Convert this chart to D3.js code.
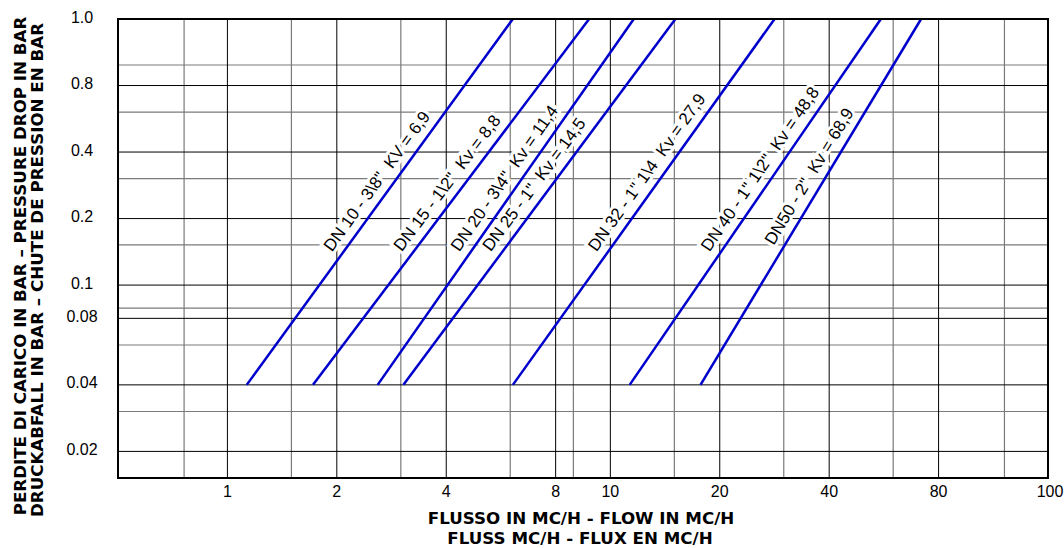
<!DOCTYPE html>
<meta charset="utf-8">
<script src="https://d3js.org/d3.v7.min.js"></script>
<body style="margin:0;background:#fff">
<svg width="1064" height="548"></svg>
<script>
    // flow axis (mc/h) and pressure drop axis (bar)
    var flowTicks  = [1, 2, 4, 8, 10, 20, 40, 80, 100];
    var flowMinor  = [0.76, 1.5, 3, 6, 8.6, 15, 30, 60, 91.5];
    var dropTicks  = [1.0, 0.8, 0.4, 0.2, 0.1, 0.08, 0.04, 0.02];
    var dropMinor  = [0.857, 0.606, 0.303, 0.152, 0.0857, 0.0606, 0.0303];
    var dropTickLabels = ['1.0', '0.8', '0.4', '0.2', '0.1', '0.08', '0.04', '0.02'];

    // valve curves: flow read at 0.04 bar and at 1.0 bar
    var valves   = ['DN 10 - 3\\8"', 'DN 15 - 1\\2"', 'DN 20 - 3\\4"', 'DN 25 - 1"', 'DN 32 - 1" 1\\4', 'DN 40 - 1" 1\\2"', 'DN50 - 2"'];
    var kvText   = ['KV = 6,9', 'Kv = 8,8', 'Kv = 11,4', 'Kv = 14,5', 'Kv = 27,9', 'Kv = 48,8', 'Kv = 68,9'];
    var flowLow  = [1.13, 1.72, 2.59, 3.05, 6.1, 11.3, 17.7];
    var flowHigh = [6.1, 9.17, 11.6, 15.1, 28.3, 55.5, 71.6];
    var dropLow  = 0.04, dropHigh = 1.0;
    var labelAt  = [0.133, 0.133, 0.133, 0.133, 0.133, 0.133, 0.143];

    var L = 118, R = 1048, T = 19, B = 478;
    var svg = d3.select('svg');

    // the paper uses uneven steps: 8->10 and 0.1->0.08 are half steps
    var xUnit = (R - L) / 8.5;
    var x = d3.scaleLog()
        .domain([0.5].concat(flowTicks))
        .range([0, 1, 2, 3, 4, 4.5, 5.5, 6.5, 7.5, 8.5].map(function(s){ return L + s * xUnit; }));

    var yUnit = (B - T) / 6.9;
    var y = d3.scaleLog()
        .domain(dropTicks.concat([0.01]))
        .range([0, 1, 2, 3, 4, 4.5, 5.5, 6.5, 7.5].map(function(s){ return T + s * yUnit; }));

    var grid = svg.append('g');
    grid.selectAll('.vmin').data(flowMinor).enter().append('line')
        .attr('x1', x).attr('x2', x).attr('y1', T).attr('y2', B)
        .attr('stroke', '#7a7a7a').attr('stroke-width', 1.2);
    grid.selectAll('.hmin').data(dropMinor).enter().append('line')
        .attr('y1', y).attr('y2', y).attr('x1', L).attr('x2', R)
        .attr('stroke', '#7a7a7a').attr('stroke-width', 1.2);
    grid.selectAll('.vmaj').data(flowTicks).enter().append('line')
        .attr('x1', x).attr('x2', x).attr('y1', T).attr('y2', B)
        .attr('stroke', '#000').attr('stroke-width', 1);
    grid.selectAll('.hmaj').data(dropTicks).enter().append('line')
        .attr('y1', y).attr('y2', y).attr('x1', L).attr('x2', R)
        .attr('stroke', '#000').attr('stroke-width', 1);

    // valve labels, white halo cuts the grid like the original
    var labels = svg.append('g')
        .attr('font-family', 'Liberation Sans, Arial, sans-serif')
        .attr('font-size', 17);
    valves.forEach(function(v, i){
        var x0 = x(flowLow[i]), y0 = y(dropLow), x1 = x(flowHigh[i]), y1 = y(dropHigh);
        var ang = Math.atan2(y1 - y0, x1 - x0) * 180 / Math.PI;
        var t = (y(labelAt[i]) - y0) / (y1 - y0);
        var px = x0 + t * (x1 - x0), py = y0 + t * (y1 - y0);
        labels.append('text')
            .attr('transform', 'translate(' + px + ',' + py + ') rotate(' + ang + ')')
            .attr('dy', -9)
            .attr('xml:space', 'preserve')
            .style('white-space', 'pre')
            .attr('stroke', '#fff').attr('stroke-width', 6).attr('paint-order', 'stroke')
            .attr('fill', '#000')
            .text(v + '  ' + kvText[i]);
    });

    svg.append('g').selectAll('line').data(valves).enter().append('line')
        .attr('x1', function(d, i){ return x(flowLow[i]); })
        .attr('y1', y(dropLow))
        .attr('x2', function(d, i){ return x(flowHigh[i]); })
        .attr('y2', y(dropHigh))
        .attr('stroke', '#0000cc').attr('stroke-width', 2.5);

    svg.append('rect')
        .attr('x', L).attr('y', T).attr('width', R - L).attr('height', B - T)
        .attr('fill', 'none').attr('stroke', '#000').attr('stroke-width', 2);

    // tick labels
    var ticks = svg.append('g')
        .attr('font-family', 'Liberation Sans, Arial, sans-serif')
        .attr('font-size', 16).attr('fill', '#000');
    ticks.selectAll('.yt').data(dropTicks).enter().append('text')
        .attr('x', 82).attr('y', function(d){ return y(d) - 2; })
        .attr('dy', '0.35em').attr('text-anchor', 'middle')
        .text(function(d, i){ return dropTickLabels[i]; });
    ticks.selectAll('.xt').data(flowTicks).enter().append('text')
        .attr('x', function(d){ return x(d) + (d === 100 ? 2 : 0); }).attr('y', 497)
        .attr('text-anchor', 'middle')
        .text(function(d){ return d; });

    // axis titles
    var titles = svg.append('g')
        .attr('font-family', 'DejaVu Sans, Verdana, sans-serif')
        .attr('font-weight', 'bold').attr('font-size', 16.7).attr('fill', '#000');
    titles.append('text').attr('x', 581).attr('y', 524).attr('text-anchor', 'middle')
        .text('FLUSSO IN MC/H - FLOW IN MC/H');
    titles.append('text').attr('x', 580).attr('y', 544).attr('text-anchor', 'middle')
        .text('FLUSS MC/H - FLUX EN MC/H');
    titles.append('text').attr('transform', 'translate(25.5,266) rotate(-90)')
        .attr('text-anchor', 'middle')
        .text('PERDITE DI CARICO IN BAR \u2013 PRESSURE DROP IN BAR');
    titles.append('text').attr('transform', 'translate(43,270) rotate(-90)')
        .attr('text-anchor', 'middle')
        .text('DRUCKABFALL IN BAR \u2013 CHUTE DE PRESSION EN BAR');
</script>
</body>
